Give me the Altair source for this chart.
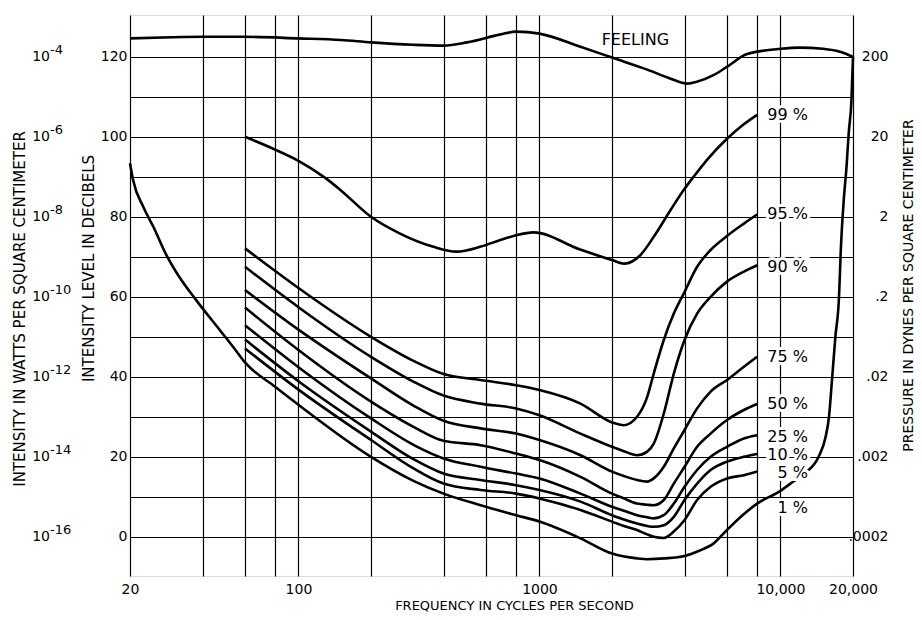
import altair as alt
import pandas as pd

FONT = "DejaVu Sans"

# ---------------- axis values ----------------
x_grid = [20, 40, 60, 80, 100, 200, 400, 600, 800, 1000, 2000, 4000, 6000, 8000, 10000, 20000]
x_label_vals = [20, 100, 1000, 10000, 20000]
x_label_txt = ["20", "100", "1000", "10,000", "20,000"]
y_grid = [0, 10, 20, 30, 40, 50, 60, 70, 80, 90, 100, 110, 120]
db_label_vals = [0, 20, 40, 60, 80, 100, 120]
pressure_txt = [".0002", ".002", ".02", ".2", "2", "20", "200"]
watts_exp = ["-16", "-14", "-12", "-10", "-8", "-6", "-4"]

# ---------------- curves ----------------
feeling_f = [20, 30, 40, 60, 100, 150, 200, 300, 400, 500, 690, 800, 1000, 1480, 2000, 2800,
             3480, 4100, 4530, 5270, 6000, 7270, 10000, 12000, 15000, 17800, 20000]
feeling_db = [124.6, 124.9, 125.0, 125.0, 124.6, 124.2, 123.6, 123.0, 122.8, 123.6, 125.6, 126.3,
              125.8, 122.5, 119.8, 116.8, 114.6, 113.3, 113.8, 115.4, 117.5, 120.7, 122.0, 122.3,
              122.0, 121.2, 120.0]

p99_f = [60, 80, 100, 130, 150, 200, 264, 363, 454, 567, 688, 800, 944, 1475, 2000, 2250, 2620,
         2980, 3500, 4000, 4360, 5000, 6000, 7000, 8000]
p99_db = [100.0, 96.8, 94.0, 89.6, 86.6, 80.0, 75.8, 72.5, 71.3, 72.5, 74.2, 75.4, 76.1, 71.8,
          69.2, 68.3, 70.4, 75.0, 81.7, 87.0, 90.0, 94.5, 99.5, 103.0, 105.5]

bundle_f = [60, 100, 200, 300, 400, 570, 800, 1000, 1480, 2000, 2240, 2540, 2800, 2980, 3280,
            3610, 4000, 4510, 5130, 6000, 7050, 8000]
p95_db = [72.1, 62.2, 50.0, 44.0, 40.7, 39.2, 37.9, 36.7, 33.3, 28.6, 27.9, 30.0, 35.0, 40.8,
          49.2, 55.8, 61.2, 67.5, 71.7, 75.2, 78.3, 80.6]
p90_db = [67.5, 57.4, 45.0, 38.8, 35.3, 33.3, 32.1, 30.4, 25.8, 22.5, 21.4, 20.4, 21.3, 23.3,
          30.8, 40.8, 49.2, 55.8, 60.0, 63.8, 66.3, 67.9]
p75_db = [61.7, 51.8, 39.6, 32.8, 29.0, 27.1, 25.8, 24.2, 20.4, 16.3, 15.2, 14.2, 13.8, 14.6,
          17.5, 22.1, 26.7, 32.1, 36.3, 39.2, 42.5, 45.0]
p50_db = [57.3, 46.7, 33.8, 27.5, 24.0, 22.9, 20.8, 19.2, 15.0, 10.8, 9.6, 8.3, 8.0, 7.9,
          9.2, 13.3, 17.5, 22.5, 25.8, 29.2, 31.7, 33.2]
p25_db = [52.9, 42.4, 29.6, 23.0, 19.6, 17.5, 15.8, 14.6, 10.8, 7.5, 6.5, 5.4, 4.9, 4.6,
          5.4, 8.3, 12.5, 16.7, 20.0, 22.5, 24.6, 25.4]
p10_db = [49.3, 38.9, 26.3, 19.4, 15.8, 14.2, 12.9, 11.7, 8.8, 5.4, 4.3, 3.3, 2.7, 2.5,
          2.9, 5.0, 9.2, 13.3, 16.7, 18.8, 20.0, 20.7]
p05_db = [47.1, 36.8, 24.2, 17.1, 13.3, 11.7, 10.8, 9.6, 6.7, 3.8, 2.7, 1.7, 0.6, 0.0,
          -0.3, 1.3, 4.2, 9.2, 12.5, 14.6, 15.4, 16.3]

p01_f = [20, 20.6, 22.7, 25, 28.4, 32, 37.5, 47, 54, 60, 80, 100, 200, 300, 400, 570, 800, 1000,
         1480, 2000, 2540, 2800, 3300, 4000, 4600, 5270, 6000, 7000, 8000, 10000, 11000, 12700,
         14400, 15400, 15900, 16400, 16900, 17500, 17800, 18300, 18800, 19200, 19700, 20000]
p01_db = [93.4, 89.2, 82.5, 77.5, 70.3, 65.0, 59.3, 51.8, 47.2, 43.6, 37.5, 33.0, 20.0, 14.0,
          10.8, 7.9, 5.4, 3.8, -0.4, -4.2, -5.4, -5.6, -5.4, -4.8, -3.5, -1.7, 1.7, 5.5, 8.3,
          11.5, 13.3, 16.0, 20.0, 25.0, 30.0, 40.0, 50.0, 60.0, 71.7, 84.0, 92.5, 101.0, 109.0,
          120.0]

curve_labels = ["99 %", "95 %", "90 %", "75 %", "50 %", "25 %", "10 %", "5 %", "1 %"]
curve_label_db = [105.4, 80.7, 67.5, 45.0, 33.2, 24.9, 20.4, 16.0, 7.2]
curve_label_f = [13000] * 9

feeling_label = "FEELING"
feeling_label_f = 2500
feeling_label_db = 124.2

# ---------------- build tables ----------------
rows = []
series = [("feeling", feeling_f, feeling_db), ("99", p99_f, p99_db),
          ("95", bundle_f, p95_db), ("90", bundle_f, p90_db), ("75", bundle_f, p75_db),
          ("50", bundle_f, p50_db), ("25", bundle_f, p25_db), ("10", bundle_f, p10_db),
          ("5", bundle_f, p05_db), ("1", p01_f, p01_db)]
for name, fs, ds in series:
    for i, (f, d) in enumerate(zip(fs, ds)):
        rows.append({"curve": name, "f": f, "db": d, "i": i})
curves_df = pd.DataFrame(rows)

labels_df = pd.DataFrame({"label": curve_labels, "f": curve_label_f, "db": curve_label_db})
feel_df = pd.DataFrame({"label": [feeling_label], "f": [feeling_label_f], "db": [feeling_label_db]})
watts_df = pd.DataFrame({"db": db_label_vals, "exp": watts_exp, "base": ["10"] * 7})
title_df = pd.DataFrame({"t": ["INTENSITY IN WATTS PER SQUARE CENTIMETER"]})

X_DOMAIN = [20, 20000]
Y_DOMAIN = [-9.8, 130.45]
xs = alt.Scale(type="log", domain=X_DOMAIN, nice=False)
ys = alt.Scale(domain=Y_DOMAIN, nice=False, zero=False)

x_expr = " : ".join(f"datum.value == {v} ? '{t}'" for v, t in zip(x_label_vals, x_label_txt)) + " : ''"
p_expr = " : ".join(f"datum.value == {v} ? '{t}'" for v, t in zip(db_label_vals, pressure_txt)) + " : ''"

x_axis = alt.Axis(values=x_grid, labelExpr=x_expr, grid=True, gridColor="black", gridWidth=1.2,
                  gridOpacity=1, ticks=False, domain=False, labelFont=FONT, labelFontSize=14,
                  labelColor="black", labelPadding=13, labelBaseline="middle", labelFlush=False,
                  labelOverlap=False, title="FREQUENCY IN CYCLES PER SECOND", titleFont=FONT,
                  titleFontSize=13, titleFontWeight="normal", titleColor="black",
                  titleX=384, titleY=29, titleBaseline="middle", titleAlign="center")

y_axis = alt.Axis(values=y_grid, labelExpr="datum.value % 20 == 0 ? datum.label : ''", grid=True,
                  gridColor="black", gridWidth=1.2, gridOpacity=1, ticks=False, domain=False,
                  labelFont=FONT, labelFontSize=14, labelColor="black", labelPadding=3,
                  labelOverlap=False, labelFlush=False, title="INTENSITY LEVEL IN DECIBELS",
                  titleFont=FONT, titleFontSize=15, titleFontWeight="normal", titleColor="black",
                  titleAngle=270, titleX=-42, titleY=253, titleBaseline="middle", titleAlign="center")

r_axis = alt.Axis(orient="right", values=db_label_vals, labelExpr=p_expr, grid=False, ticks=False,
                  domain=False, labelFont=FONT, labelFontSize=14, labelColor="black",
                  labelPadding=35, labelAlign="right", labelOverlap=False, labelFlush=False,
                  title="PRESSURE IN DYNES PER SQUARE CENTIMETER", titleFont=FONT, titleFontSize=14,
                  titleFontWeight="normal", titleColor="black", titleAngle=270, titleX=55,
                  titleY=270, titleBaseline="middle", titleAlign="center")

lines = alt.Chart(curves_df).mark_line(interpolate="monotone", color="black", strokeWidth=2.6).encode(
    x=alt.X("f:Q", scale=xs, axis=x_axis),
    y=alt.Y("db:Q", scale=ys, axis=y_axis),
    detail="curve:N",
    order="i:Q",
)

watts_base = alt.Chart(watts_df).mark_text(font=FONT, fontSize=14, align="right", baseline="middle",
                                           color="black").encode(
    x=alt.value(-80),
    y=alt.Y("db:Q", scale=ys, axis=r_axis),
    text="base:N",
)
watts_sup = alt.Chart(watts_df).mark_text(font=FONT, fontSize=13, align="left", baseline="middle",
                                          dy=-7, color="black").encode(
    x=alt.value(-80),
    y=alt.Y("db:Q", scale=ys, axis=None),
    text="exp:N",
)
watts_title = alt.Chart(title_df).mark_text(font=FONT, fontSize=15, angle=270, align="center",
                                            baseline="middle", color="black").encode(
    x=alt.value(-110), y=alt.value(294), text="t:N")

halo = alt.Chart(labels_df).mark_text(font=FONT, fontSize=16, align="right", baseline="middle",
                                      color="white", stroke="white", strokeWidth=6).encode(
    x=alt.X("f:Q", scale=xs), y=alt.Y("db:Q", scale=ys, axis=None), text="label:N")
ltext = alt.Chart(labels_df).mark_text(font=FONT, fontSize=16, align="right", baseline="middle",
                                       color="black").encode(
    x=alt.X("f:Q", scale=xs), y=alt.Y("db:Q", scale=ys, axis=None), text="label:N")
feel = alt.Chart(feel_df).mark_text(font=FONT, fontSize=16, align="center", baseline="middle",
                                    color="black").encode(
    x=alt.X("f:Q", scale=xs), y=alt.Y("db:Q", scale=ys, axis=None), text="label:N")

chart = alt.layer(lines, watts_base, watts_sup, watts_title, halo, ltext, feel).resolve_axis(
    y="independent"
).properties(
    width=723, height=561,
    padding={"left": 122, "top": 7, "right": 61, "bottom": 36},
    autosize=alt.AutoSizeParams(type="none"),
).configure_view(stroke="black", strokeWidth=2.2).configure(background="white")

chart.save("out.html", embed_options={"renderer": "svg", "actions": False})
